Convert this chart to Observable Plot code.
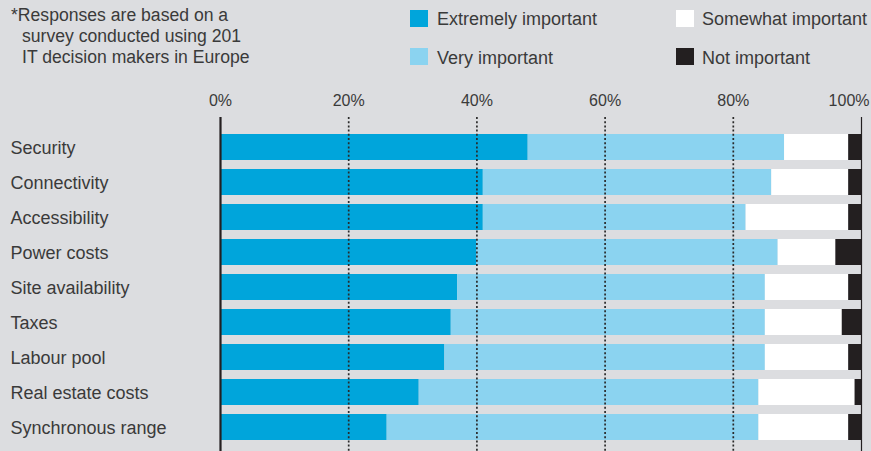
<!DOCTYPE html>
<html>
<head>
<meta charset="utf-8">
<script src="https://cdn.jsdelivr.net/npm/d3@7"></script>
<script src="https://cdn.jsdelivr.net/npm/@observablehq/plot@0.6"></script>
<style>
  html, body { margin: 0; padding: 0; background: #dcdde0; }
  body { width: 871px; height: 451px; overflow: hidden; font-family: "Liberation Sans", Arial, sans-serif; color: #3a3a3a; }
  #header { position: relative; height: 88px; }
  .t { position: absolute; font-size: 18px; line-height: 18px; white-space: nowrap; color: #3a3a3a; }
  .sw { position: absolute; width: 18px; height: 17px; }
  #chart svg { display: block; }
</style>
</head>
<body>
<div id="header"></div>
<div id="chart"></div>
<script>
const categories = ["Security", "Connectivity", "Accessibility", "Power costs", "Site availability", "Taxes", "Labour pool", "Real estate costs", "Synchronous range"];
const seriesNames = ["Extremely important", "Very important", "Somewhat important", "Not important"];
const seriesColors = ["#00a5db", "#8bd3f0", "#ffffff", "#231f20"];
const extremely = [48, 41, 41, 40, 37, 36, 35, 31, 26];
const very      = [40, 45, 41, 47, 48, 49, 50, 53, 58];
const somewhat  = [10, 12, 16,  9, 13, 12, 13, 15, 14];
const notImp    = [ 2,  2,  2,  4,  2,  3,  2,  1,  2];
const tickValues = [0, 20, 40, 60, 80, 100];
const gridValues = [20, 40, 60, 80];
const footnoteLines = ["*Responses are based on a", "survey conducted using 201", "IT decision makers in Europe"];

// header: footnote + legend
const header = document.getElementById("header");
footnoteLines.forEach((line, i) => {
  const d = document.createElement("div");
  d.className = "t";
  d.style.fontSize = "17.6px";
  d.style.left = (i === 0 ? 11 : 22) + "px";
  d.style.top = (6 + i * 21) + "px";
  d.textContent = line;
  header.appendChild(d);
});
const legendPos = [[410, 437, 10, 10], [410, 437, 48, 49], [676, 702, 10, 10], [676, 702, 48, 49]];
seriesNames.forEach((name, i) => {
  const [sx, tx, sy, ty] = legendPos[i];
  const sw = document.createElement("div");
  sw.className = "sw";
  sw.style.left = sx + "px";
  sw.style.top = sy + "px";
  sw.style.background = seriesColors[i];
  header.appendChild(sw);
  const t = document.createElement("div");
  t.className = "t";
  t.style.left = tx + "px";
  t.style.top = ty + "px";
  t.textContent = name;
  header.appendChild(t);
});

// data table
const seriesValues = [extremely, very, somewhat, notImp];
const data = [];
categories.forEach((c, i) => {
  seriesNames.forEach((s, j) => data.push({category: c, series: s, value: seriesValues[j][i]}));
});

const chart = Plot.plot({
  width: 871,
  height: 363,
  marginLeft: 220,
  marginRight: 10,
  marginTop: 34.5,
  marginBottom: 0,
  style: {background: "transparent", fontFamily: "Liberation Sans, Arial, sans-serif", color: "#3a3a3a"},
  x: {domain: [0, 100], axis: null},
  y: {domain: categories, axis: null, padding: 0.268},
  color: {domain: seriesNames, range: seriesColors},
  marks: [
    Plot.barX(data, Plot.stackX({y: "category", x: "value", z: "series", fill: "series", order: seriesNames})),
    Plot.ruleX(gridValues, {stroke: "#2a2a2a", strokeWidth: 1.7, strokeDasharray: "2 2.2", insetTop: -5.5}),
    Plot.ruleX([0], {stroke: "#231f20", strokeWidth: 2.2, insetTop: -5.5}),
    Plot.ruleX([100], {stroke: "#231f20", strokeWidth: 1.2, insetTop: -5.5}),
    Plot.text(tickValues.slice(0, -1), {x: d => d, text: d => d + "%", frameAnchor: "top", lineAnchor: "bottom", dy: -17.5, fontSize: 16, fill: "#3a3a3a"}),
    Plot.text(tickValues.slice(-1), {x: d => d, text: d => d + "%", frameAnchor: "top", lineAnchor: "bottom", textAnchor: "end", dx: 8, dy: -17.5, fontSize: 16, fill: "#3a3a3a"}),
    Plot.text(categories, {y: d => d, x: () => 0, text: d => d, textAnchor: "start", dx: -210, dy: 0.5, fontSize: 18, fill: "#3a3a3a"})
  ]
});
document.getElementById("chart").appendChild(chart);
</script>
</body>
</html>
